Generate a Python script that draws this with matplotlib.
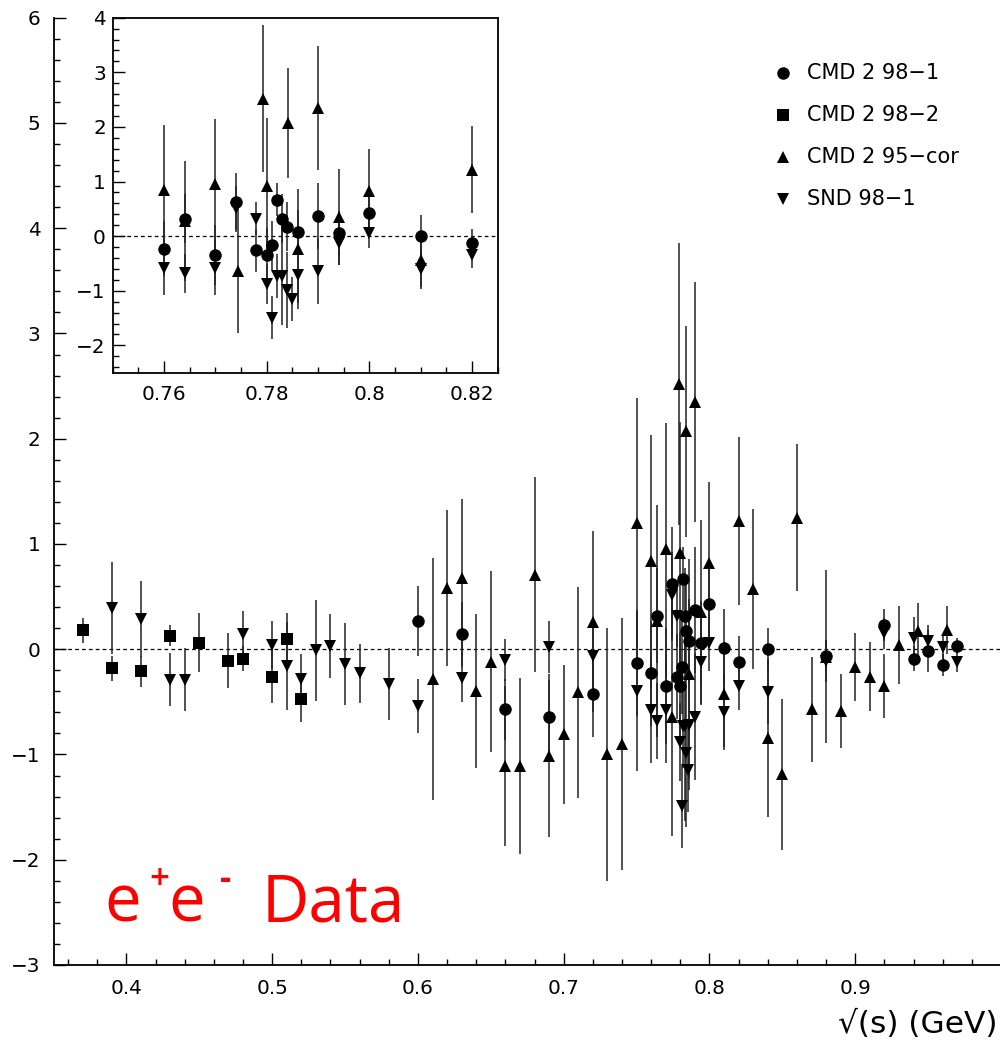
import numpy as np
import matplotlib.pyplot as plt
from matplotlib.ticker import MultipleLocator, FuncFormatter

plt.rcParams['font.family'] = ['DejaVu Sans']

# CMD 2 98-1 (circles)
cmd981_x = [0.60, 0.63, 0.66, 0.69, 0.72, 0.75, 0.76, 0.764, 0.77, 0.774, 0.778, 0.78, 0.781,
            0.782, 0.783, 0.784, 0.786, 0.79, 0.794, 0.80, 0.81, 0.82, 0.84, 0.88, 0.92, 0.94,
            0.95, 0.96, 0.97]
cmd981_y = [0.27, 0.14, -0.57, -0.64, -0.43, -0.13, -0.23, 0.32, -0.35, 0.62, -0.26, -0.35, -0.17,
            0.67, 0.32, 0.17, 0.08, 0.37, 0.06, 0.43, 0.01, -0.12, 0.00, -0.06, 0.23, -0.09,
            -0.02, -0.15, 0.03]
cmd981_err = [0.33, 0.31, 0.29, 0.35, 0.40, 0.50, 0.50, 0.45, 0.55, 0.54, 0.40, 0.50, 0.45,
              0.30, 0.45, 0.45, 0.40, 0.60, 0.40, 0.35, 0.37, 0.25, 0.20, 0.15, 0.15, 0.12,
              0.20, 0.10, 0.08]

# CMD 2 98-2 (squares)
cmd982_x = [0.37, 0.39, 0.41, 0.43, 0.45, 0.47, 0.48, 0.50, 0.51, 0.52]
cmd982_y = [0.18, -0.18, -0.21, 0.13, 0.06, -0.11, -0.09, -0.26, 0.10, -0.47]
cmd982_err = [0.12, 0.12, 0.15, 0.10, 0.28, 0.26, 0.12, 0.25, 0.24, 0.22]

# CMD 2 95-cor (up triangles)
cmd95_x = [0.61, 0.62, 0.63, 0.64, 0.65, 0.66, 0.67, 0.68, 0.69, 0.70, 0.71, 0.72, 0.73, 0.74,
           0.75, 0.76, 0.764, 0.77, 0.7745, 0.7793, 0.78, 0.7842, 0.786, 0.79, 0.794, 0.80,
           0.81, 0.82, 0.83, 0.84, 0.85, 0.86, 0.87, 0.88, 0.89, 0.90, 0.91, 0.92, 0.93,
           0.943, 0.963]
cmd95_y = [-0.28, 0.58, 0.68, -0.40, -0.12, -1.11, -1.11, 0.71, -1.01, -0.81, -0.41, 0.26, -1.00,
           -0.90, 1.20, 0.84, 0.27, 0.95, -0.64, 2.52, 0.91, 2.07, -0.24, 2.35, 0.35, 0.82,
           -0.43, 1.22, 0.57, -0.84, -1.19, 1.25, -0.57, -0.07, -0.59, -0.17, -0.26, -0.35, 0.04,
           0.17, 0.18]
cmd95_err = [1.15, 0.74, 0.75, 0.73, 0.86, 0.76, 0.84, 0.93, 0.77, 0.66, 1.00, 0.86, 1.20,
             1.20, 1.19, 1.20, 1.10, 1.20, 1.13, 1.34, 1.25, 1.00, 1.10, 1.14, 0.88, 0.77,
             0.50, 0.80, 0.76, 0.75, 0.72, 0.70, 0.50, 0.82, 0.35, 0.32, 0.33, 0.30, 0.37,
             0.27, 0.23]

# SND 98-1 (down triangles)
snd_x = [0.39, 0.41, 0.43, 0.44, 0.48, 0.50, 0.51, 0.52, 0.53, 0.54, 0.55, 0.56, 0.58, 0.60,
         0.63, 0.66, 0.69, 0.72, 0.75, 0.76, 0.764, 0.77, 0.774, 0.778, 0.78, 0.781, 0.782,
         0.783, 0.784, 0.785, 0.786, 0.79, 0.794, 0.80, 0.81, 0.82, 0.84, 0.88, 0.92, 0.94,
         0.95, 0.96, 0.97]
snd_y = [0.39, 0.29, -0.29, -0.29, 0.14, 0.04, -0.16, -0.28, -0.01, 0.03, -0.14, -0.23, -0.33,
         -0.54, -0.27, -0.10, 0.02, -0.06, -0.40, -0.58, -0.68, -0.58, 0.52, 0.32, -0.88, -1.49,
         -0.73, -0.73, -0.99, -1.15, -0.72, -0.64, -0.12, 0.06, -0.60, -0.35, -0.41, -0.11,
         0.15, 0.11, 0.08, 0.02, -0.12]
snd_err = [0.44, 0.36, 0.25, 0.30, 0.22, 0.23, 0.42, 0.23, 0.48, 0.30, 0.39, 0.28, 0.34, 0.26,
           0.23, 0.20, 0.25, 0.30, 0.76, 0.50, 0.36, 0.50, 0.40, 0.30, 0.37, 0.40, 0.40, 0.90,
           0.70, 0.40, 0.50, 0.60, 0.40, 0.27, 0.36, 0.23, 0.30, 0.20, 0.15, 0.20, 0.15, 0.12,
           0.10]

series = [
    ('CMD 2 98\u22121', cmd981_x, cmd981_y, cmd981_err, 'o', 9.0),
    ('CMD 2 98\u22122', cmd982_x, cmd982_y, cmd982_err, 's', 8.5),
    ('CMD 2 95\u2212cor', cmd95_x, cmd95_y, cmd95_err, '^', 9.0),
    ('SND 98\u22121', snd_x, snd_y, snd_err, 'v', 9.0),
]

W, H = 1000, 1053


def fx(px):
    return px / W


def fy(py):
    return 1 - py / H


def fmt(v, pos):
    return ('%g' % round(v, 4)).replace('-', '\u2212')


def fmt_main_x(v, pos):
    # the 1.0 label falls off the right edge of the picture
    if v > 0.99:
        return ''
    return fmt(v, pos)


fig = plt.figure(figsize=(10, 10.53), dpi=100)
ax = fig.add_axes([fx(53.5), fy(965), (1001 - 53.5) / W, (965 - 17.7) / H])
axin = fig.add_axes([fx(112.7), fy(372.7), (497.7 - 112.7) / W, (372.7 - 17.7) / H])


def draw(a, xmin, xmax):
    for label, xs, ys, es, m, ms in series:
        xs = np.array(xs)
        sel = (xs > xmin) & (xs < xmax)
        a.errorbar(xs[sel], np.array(ys)[sel], yerr=np.array(es)[sel], fmt=m, ms=ms,
                   color='black', ecolor='#222222', elinewidth=1.1, capsize=0, mew=0)
    a.axhline(0, color='black', lw=0.9, dashes=(3, 2.5), zorder=0)


draw(ax, 0.35, 1.0)
ax.set_xlim(0.35, 1.0)
ax.set_ylim(-3, 6)
for s in ['top', 'right']:
    ax.spines[s].set_visible(False)
for s in ['left', 'bottom']:
    ax.spines[s].set_linewidth(1.3)
ax.xaxis.set_major_locator(MultipleLocator(0.1))
ax.xaxis.set_minor_locator(MultipleLocator(0.02))
ax.yaxis.set_major_locator(MultipleLocator(1))
ax.yaxis.set_minor_locator(MultipleLocator(0.2))
ax.xaxis.set_major_formatter(FuncFormatter(fmt_main_x))
ax.yaxis.set_major_formatter(FuncFormatter(fmt))
ax.tick_params(which='both', direction='in', width=1.0, labelsize=14.4)
ax.tick_params(which='major', length=8.6)
ax.tick_params(which='minor', length=4.3)
ax.tick_params(axis='x', which='major', pad=10)
ax.tick_params(axis='y', which='major', pad=9.4)

draw(axin, 0.755, 0.825)
axin.set_xlim(0.75, 0.825)
axin.set_ylim(-2.5, 4)
for s in axin.spines.values():
    s.set_linewidth(1.3)
axin.xaxis.set_major_locator(MultipleLocator(0.02))
axin.xaxis.set_minor_locator(MultipleLocator(0.005))
axin.yaxis.set_major_locator(MultipleLocator(1))
axin.yaxis.set_minor_locator(MultipleLocator(0.2))
axin.xaxis.set_major_formatter(FuncFormatter(fmt))
axin.yaxis.set_major_formatter(FuncFormatter(fmt))
axin.tick_params(which='both', direction='in', width=1.0, labelsize=14.4)
axin.tick_params(which='major', length=8.6)
axin.tick_params(which='minor', length=4.3)
axin.tick_params(axis='x', which='major', pad=8.6)
axin.tick_params(axis='y', which='major', pad=5)

# legend
for i, (label, xs, ys, es, m, ms) in enumerate(series):
    yy = 72.7 + 42.2 * i
    fig.lines.append(plt.Line2D([fx(783)], [fy(yy)], marker=m, ms=ms, color='black', mew=0,
                                transform=fig.transFigure))
    fig.text(fx(807), fy(yy), label, fontsize=15, va='center', ha='left')

# axis title
fig.text(fx(997), fy(1033), '\u221a(s) (GeV)', fontsize=22.5, ha='right', va='baseline')

# red annotation
red = dict(color='#ff0000', family=['Open Sans', 'DejaVu Sans'], va='baseline')
fig.text(fx(104), fy(922), 'e', fontsize=47, **red)
fig.text(fx(149), fy(889), '+', fontsize=25, weight='semibold', **red)
fig.text(fx(168), fy(922), 'e', fontsize=47, **red)
fig.text(fx(220), fy(889), '-', fontsize=25, weight='bold', **red)
fig.text(fx(262), fy(922), 'Data', fontsize=47, **red)

fig.savefig('out.png', dpi=100)
